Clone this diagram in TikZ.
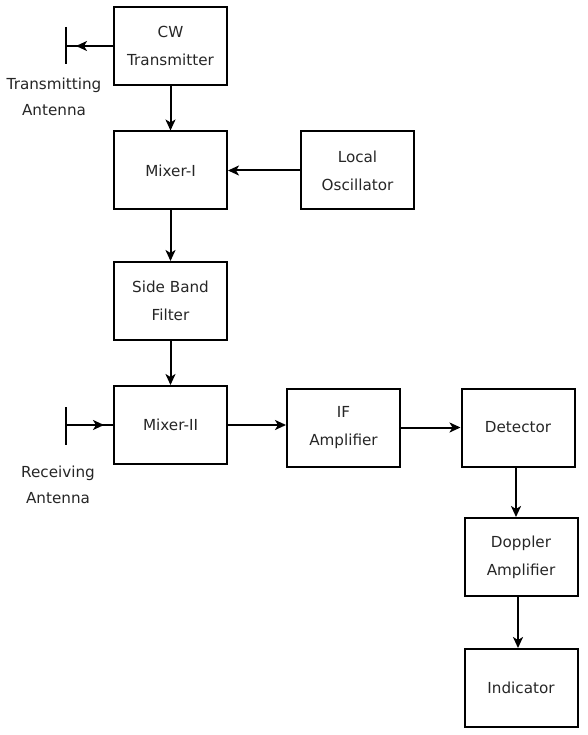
\documentclass[tikz,border=0pt]{standalone}
\usepackage{fontspec}
\setmainfont{DejaVu Sans}
\usetikzlibrary{arrows.meta}
\begin{document}
\begin{tikzpicture}[x=1pt,y=-1pt,
  blk/.style={draw, line width=2pt, minimum width=113pt, minimum height=78pt, inner sep=0pt, align=center,
    font=\fontsize{15.2}{28}\selectfont, text=black!85},
  lbl/.style={align=center, font=\fontsize{15.2}{26}\selectfont, inner sep=0pt, text=black!85},
  conn/.style={line width=2pt, -{Stealth[length=11pt,width=10pt,inset=3pt]}},
  plain/.style={line width=2pt}]
\useasboundingbox (0,0) rectangle (588,735);
\node[blk] (tx) at (170.5,46) {CW\\Transmitter};
\node[blk] (m1) at (170.5,170.5) {Mixer-I};
\node[blk] (lo) at (357.5,170.5) {Local\\Oscillator};
\node[blk] (sbf) at (170.5,301) {Side Band\\Filter};
\node[blk] (m2) at (170.5,425) {Mixer-II};
\node[blk] (ifa) at (343.5,427.5) {IF\\Amplifier};
\node[blk] (det) at (518,427.5) {Detector};
\node[blk] (dop) at (521,557) {Doppler\\Amplifier};
\node[blk] (ind) at (521,688) {Indicator};
% transmitting antenna
\coordinate (ta1) at (66,27);
\coordinate (ta2) at (66,64);
\coordinate (tam) at (66,46);
\coordinate (tatip) at (76,46);
\draw[plain] (ta1) -- (ta2);
\draw[plain] (tx.west) -- (tam);
\draw[conn] (tx.west) -- (tatip);
\node[lbl] (tal) at (54,97) {Transmitting\\Antenna};
% receiving antenna
\coordinate (ra1) at (66,407);
\coordinate (ra2) at (66,445);
\coordinate (ram) at (66,425);
\coordinate (ratip) at (104,425);
\draw[plain] (ra1) -- (ra2);
\draw[plain] (ram) -- (m2.west);
\draw[conn] (ram) -- (ratip);
\node[lbl] (ral) at (58,485) {Receiving\\Antenna};
% connectors
\draw[conn] (tx.south) -- (m1.north);
\draw[conn] (lo.west) -- (m1.east);
\draw[conn] (m1.south) -- (sbf.north);
\draw[conn] (sbf.south) -- (m2.north);
\draw[conn] (m2.east) -- (m2.east -| ifa.west);
\draw[conn] (ifa.east) -- (det.west);
\draw[conn] ([xshift=-2pt]det.south) -- ([xshift=-2pt]det.south |- dop.north);
\draw[conn] ([xshift=-3pt]dop.south) -- ([xshift=-3pt]dop.south |- ind.north);
\end{tikzpicture}
\end{document}
